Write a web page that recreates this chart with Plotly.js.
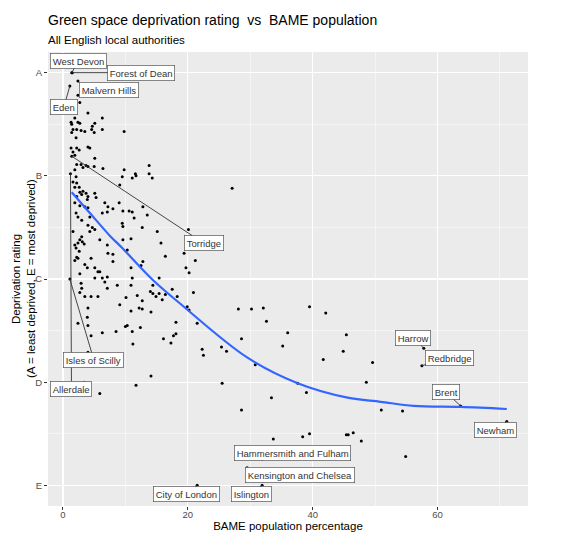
<!DOCTYPE html>
<html><head><meta charset="utf-8">
<script src="https://cdn.plot.ly/plotly-3.0.1.min.js"></script>
<style>html,body{margin:0;padding:0;background:#fff}#chart{width:563px;height:537px}</style>
</head><body><div id="chart"></div>
<script>
// BAME population percentage (x) and deprivation rating (1 = A ... 5 = E) per local authority
const bamePct = [
  2.4, 2.7, 4.0, 1.9, 1.3, 1.4, 2.4, 2.7,
  1.6, 2.2, 2.9, 3.5, 4.7, 5.1, 6.3, 6.3,
  5.0, 4.6, 1.4, 2.1, 1.3, 1.6, 2.2, 2.6,
  1.9, 4.0, 4.3, 5.1, 2.2, 2.9, 3.2, 3.7,
  4.0, 5.0, 6.4, 1.9, 2.1, 1.6, 2.2, 1.9,
  2.6, 2.7, 3.2, 3.7, 3.0, 2.2, 4.0, 3.9,
  5.1, 5.3, 1.9, 2.7, 3.5, 4.0, 6.7, 7.2,
  7.1, 6.3, 2.1, 2.4, 3.0, 4.3, 4.0, 4.7,
  9.8, 9.8, 9.5, 11.1, 11.6, 11.7, 13.8, 13.8,
  14.3, 9.1, 9.0, 9.6, 10.6, 11.1, 12.8, 13.5,
  11.4, 9.5, 9.6, 12.7, 8.0, 27.1, 20.1, 15.1,
  1.6, 3.0, 2.7, 2.4, 3.1, 2.1, 2.6, 2.2,
  2.4, 1.9, 4.3, 5.1, 5.9, 7.1, 7.2, 4.5,
  3.5, 3.9, 5.1, 5.6, 5.9, 6.3, 7.1, 5.1,
  2.7, 2.9, 3.0, 2.7, 3.5, 4.5, 5.6, 7.1,
  6.7, 4.0, 3.9, 2.4, 4.0, 6.3, 4.0, 3.4,
  5.9, 4.5, 3.4, 1.9,
  9.6, 10.9, 15.7, 10.3, 16.4, 8.0, 8.0, 12.8,
  10.9, 12.5, 15.4, 11.1, 8.7, 10.9, 14.4, 14.0,
  14.4, 14.9, 15.4, 15.9, 16.4, 17.5, 18.3, 19.9,
  20.2, 11.9, 10.1, 12.7, 12.2, 12.7, 14.1, 9.1,
  10.9, 18.1, 10.0, 10.3, 12.4, 8.5, 11.1, 18.1,
  17.7, 16.1, 17.3, 11.2, 14.1, 11.7,
  19.4, 21.2, 19.7, 20.2, 20.9, 21.5,
  28.1, 30.2, 32.1, 32.6, 39.5, 42.1, 28.6, 36.0,
  35.2, 45.4, 44.9, 41.7, 49.6, 22.3, 22.5, 25.4,
  26.2, 30.8, 25.5, 37.6, 48.6, 33.4, 39.0, 28.6,
  51.0, 54.4, 33.7, 38.4, 39.5, 45.4, 45.7, 46.5,
  47.8, 54.9
];
const rating = [
  1.22, 1.29, 1.39, 1.44, 1.48, 1.50, 1.48, 1.49,
  1.55, 1.55, 1.56, 1.57, 1.52, 1.49, 1.44, 1.55,
  1.58, 1.55, 1.58, 1.63, 1.73, 1.77, 1.73, 1.75,
  1.80, 1.72, 1.73, 1.83, 1.89, 1.89, 1.92, 1.90,
  1.91, 1.91, 1.93, 1.94, 2.01, 2.06, 2.07, 2.11,
  2.11, 2.16, 2.15, 2.17, 2.18, 2.20, 2.20, 2.23,
  2.17, 2.21, 2.26, 2.29, 2.30, 2.31, 2.26, 2.30,
  2.35, 2.36, 2.36, 2.40, 2.43, 2.40, 2.48, 2.50,
  1.57, 1.94, 2.01, 2.02, 1.98, 2.00, 1.90, 1.98,
  2.02, 2.09, 2.26, 2.34, 2.34, 2.35, 2.30, 2.38,
  2.41, 2.46, 2.49, 2.50, 2.32, 2.12, 2.52, 2.54,
  2.54, 2.59, 2.62, 2.65, 2.64, 2.70, 2.73, 2.79,
  2.80, 2.82, 2.54, 2.52, 2.62, 2.67, 2.75, 2.80,
  2.86, 2.89, 2.89, 2.93, 2.93, 2.99, 2.98, 2.99,
  2.95, 3.04, 3.09, 3.13, 3.17, 3.17, 3.17, 3.09,
  3.03, 3.28, 3.37, 3.43, 3.45, 3.52, 3.71, 4.00,
  4.11, 3.55, 2.66, 2.67,
  2.62, 2.61, 2.65, 2.72, 2.78, 2.76, 2.83, 2.83,
  2.89, 2.87, 2.99, 2.99, 3.06, 3.06, 3.06, 3.12,
  3.14, 3.17, 3.14, 3.20, 3.15, 3.10, 3.17, 3.27,
  3.30, 3.16, 3.18, 3.21, 3.28, 3.29, 3.32, 3.25,
  3.31, 3.42, 3.46, 3.45, 3.47, 3.51, 3.51, 3.53,
  3.55, 3.58, 3.62, 3.63, 3.94, 4.03,
  2.75, 2.82, 2.89, 2.94, 3.13, 3.43,
  3.29, 3.29, 3.28, 3.41, 3.27, 3.33, 3.58, 3.52,
  3.65, 3.54, 3.70, 3.78, 3.81, 3.68, 3.74, 3.66,
  3.70, 3.83, 4.01, 4.01, 4.00, 4.15, 4.10, 4.27,
  4.27, 4.28, 4.55, 4.53, 4.50, 4.51, 4.51, 4.49,
  4.57, 4.72
];

// Labelled local authorities
const labelNames = ['West Devon', 'Forest of Dean', 'Malvern Hills', 'Eden', 'Torridge', 'Allerdale',
  'Isles of Scilly', 'Harrow', 'Redbridge', 'Brent', 'Newham', 'Hammersmith and Fulham',
  'Kensington and Chelsea', 'Islington', 'City of London'];
const labelBame = [1.4, 1.5, 2.4, 1.1, 1.4, 1.2, 1.1, 57.8, 57.5, 63.7, 71.1, 31.9, 29.5, 31.9, 21.5];
const labelRating = [1.0, 1.0, 1.08, 1.13, 1.81, 1.98, 3.0, 3.67, 3.84, 4.23, 4.38, 4.75, 4.83, 5.0, 5.0];

// Smoothed (loess) trend
const smoothBame = [1.4, 4.3, 7.5, 9.5, 14.4, 18.8, 29.5, 37.6, 45.6, 50.9, 56.2, 63.7, 71.1];
const smoothRating = [2.16, 2.36, 2.58, 2.70, 3.01, 3.24, 3.76, 4.01, 4.15, 4.19, 4.23, 4.24, 4.26];

// Axis ticks and texts
const gradeValues = [1, 2, 3, 4, 5];
const gradeLabels = ['A', 'B', 'C', 'D', 'E'];
const xTickValues = [0, 20, 40, 60];
const titleText = 'Green space deprivation rating\u00a0 vs\u00a0 BAME population';
const subtitleText = 'All English local authorities';
const xTitle = 'BAME population percentage';
const yTitleLines = ['Deprivation rating', '(A = least deprived, E = most deprived)'];

// Label placement (pixel offsets of label centre from its point) — layout only
const labelOffsets = {
  'West Devon': [7, -12], 'Forest of Dean': [69, 0], 'Malvern Hills': [31, 9], 'Eden': [-6, 21],
  'Torridge': [132, 87], 'Allerdale': [1, 215], 'Isles of Scilly': [24, 81], 'Harrow': [-11, -10],
  'Redbridge': [28, -8], 'Brent': [-15, -14], 'Newham': [-11, 9], 'Hammersmith and Fulham': [30, -7],
  'Kensington and Chelsea': [53, 7], 'Islington': [-11, 9], 'City of London': [-11, 9]
};

const FONT = 'Liberation Sans, Arial, Helvetica, sans-serif';

const traces = [
  {
    type: 'scatter', mode: 'markers',
    x: bamePct.concat(labelBame), y: rating.concat(labelRating),
    marker: {color: '#000', size: 3},
    hoverinfo: 'skip', showlegend: false
  },
  {
    type: 'scatter', mode: 'lines',
    x: smoothBame, y: smoothRating,
    line: {color: '#3366FF', width: 2.2, shape: 'spline', smoothing: 1},
    hoverinfo: 'skip', showlegend: false
  }
];

const annotations = labelNames.map((n, i) => ({
  x: labelBame[i], y: labelRating[i], xref: 'x', yref: 'y',
  text: n, showarrow: true, arrowhead: 0, arrowwidth: 0.9, arrowcolor: '#333',
  ax: labelOffsets[n][0], ay: labelOffsets[n][1], standoff: 0,
  bgcolor: '#fff', bordercolor: '#555', borderwidth: 0.7, borderpad: 2,
  font: {family: FONT, size: 9.5, color: '#333'}
}));

// subtitle and two-line y-axis title
annotations.push({
  text: subtitleText, xref: 'paper', yref: 'paper', x: 0, y: 1 + 12 / 454, xshift: -2,
  xanchor: 'left', yanchor: 'middle', showarrow: false,
  font: {family: FONT, size: 11.5, color: '#000'}
});
annotations.push({
  text: yTitleLines[0], xref: 'paper', yref: 'paper', x: 0, y: 0.5, xshift: -32,
  xanchor: 'center', yanchor: 'middle', textangle: -90, showarrow: false,
  font: {family: FONT, size: 11.5, color: '#000'}
});
annotations.push({
  text: yTitleLines[1], xref: 'paper', yref: 'paper', x: 0, y: 0.5, xshift: -17,
  xanchor: 'center', yanchor: 'middle', textangle: -90, showarrow: false,
  font: {family: FONT, size: 11.5, color: '#000'}
});

const layout = {
  width: 563, height: 537,
  margin: {l: 48, r: 35, t: 52, b: 31},
  paper_bgcolor: '#fff', plot_bgcolor: '#EBEBEB',
  font: {family: FONT, color: '#000'},
  title: {
    text: titleText,
    font: {family: FONT, size: 14, color: '#000'},
    x: 0, xref: 'paper', xanchor: 'left',
    y: 1 - 15 / 537, yref: 'container', yanchor: 'top'
  },
  xaxis: {
    range: [-2.4, 74.5], tickmode: 'array', tickvals: xTickValues,
    ticktext: xTickValues.map(String),
    showgrid: true, gridcolor: '#fff', gridwidth: 1.1, zeroline: false, showline: false,
    ticks: 'outside', ticklen: 3, tickcolor: '#333', tickwidth: 1,
    ticklabelstandoff: -3,
    tickfont: {family: FONT, size: 9.5, color: '#4D4D4D'},
    minor: {tick0: 0, dtick: 10, showgrid: true, gridcolor: '#fff', gridwidth: 0.5, ticks: ''},
    title: {text: xTitle, font: {family: FONT, size: 11.5, color: '#000'}, standoff: 0},
    automargin: false
  },
  yaxis: {
    range: [5.2, 0.8], tickmode: 'array', tickvals: gradeValues, ticktext: gradeLabels,
    showgrid: true, gridcolor: '#fff', gridwidth: 1.1, zeroline: false, showline: false,
    ticks: 'outside', ticklen: 3, tickcolor: '#333', tickwidth: 1,
    tickfont: {family: FONT, size: 9.5, color: '#4D4D4D'},
    minor: {tick0: 0.5, dtick: 1, showgrid: true, gridcolor: '#fff', gridwidth: 0.5, ticks: ''},
    automargin: false
  },
  annotations: annotations
};

Plotly.newPlot('chart', traces, layout, {displayModeBar: false, staticPlot: true});
</script>
</body></html>
